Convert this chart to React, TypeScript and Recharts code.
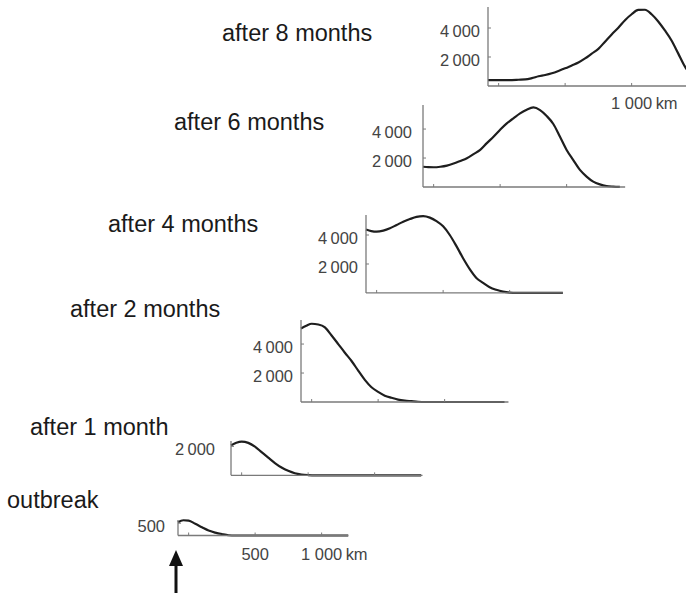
import { LineChart, Line, XAxis, YAxis } from "recharts";

// distance from the outbreak point, km (shared by all panels)
const kmGrid = [
  -80, -40, 0, 50, 100, 150, 200, 250, 300, 350, 400, 450, 500, 550, 600, 650,
  700, 750, 800, 850, 900, 950, 1000, 1050, 1100, 1150, 1200, 1250, 1300, 1350,
  1400, 1450, 1500, 1550,
];

// cases per panel
const outbreak = [540, 620, 605, 475, 335, 200, 120, 60, 12, 0, 0, 0, 0, 0, 0, 0, 0, 0, 0, 0, 0, 0, 0, 0, 0, 0, 0, 0, 0, 0, 0, 0, 0, 0];
const month1 = [2070, 2250, 2330, 2240, 1980, 1600, 1220, 850, 540, 310, 145, 60, 20, 0, 0, 0, 0, 0, 0, 0, 0, 0, 0, 0, 0, 0, 0, 0, 0, 0, 0, 0, 0, 0];
const month2 = [5080, 5260, 5400, 5350, 5150, 4590, 4000, 3400, 2830, 2170, 1530, 1020, 700, 440, 290, 170, 100, 60, 20, 0, 0, 0, 0, 0, 0, 0, 0, 0, 0, 0, 0, 0, 0, 0];
const month4 = [4380, 4270, 4230, 4300, 4460, 4690, 4920, 5100, 5250, 5300, 5200, 4960, 4600, 4000, 3230, 2400, 1650, 1040, 700, 400, 220, 95, 25, 0, 0, 0, 0, 0, 0, 0, 0, 0, 0, 0];
const month6 = [1400, 1370, 1365, 1400, 1480, 1620, 1800, 1990, 2270, 2560, 3030, 3470, 3950, 4390, 4740, 5080, 5340, 5490, 5310, 4900, 4350, 3470, 2560, 1860, 1180, 720, 370, 180, 70, 30, 10, 0, 0, 0];
const month8 = [400, 400, 400, 400, 410, 430, 450, 540, 670, 760, 880, 1040, 1220, 1420, 1620, 1900, 2230, 2560, 3060, 3560, 4020, 4540, 4950, 5250, 5260, 4950, 4450, 3830, 3140, 2250, 1350, 750, 400, 220];

const xTicks = [0, 500, 1000];

const PX_PER_KM = 0.133;
const AXIS = "#7a7a7a";
const INK = "#1e1e1e";
const FONT = '"Liberation Sans", Arial, sans-serif';

const panels = [
  { title: "after 8 months", values: month8, titleX: 222, titleY: 41, axisX: 488, baseY: 86, xEnd: 1550, yTop: 5450, unit: 69, yTicks: [2000, 4000], xLabels: { 1000: "1 000" } as Record<number, string>, gap: 8, xLabelDy: 17 },
  { title: "after 6 months", values: month6, titleX: 174, titleY: 130, axisX: 423, baseY: 187, xEnd: 1440, yTop: 5660, unit: 69, yTicks: [2000, 4000], xLabels: {}, gap: 11, xLabelDy: 18 },
  { title: "after 4 months", values: month4, titleX: 108, titleY: 232, axisX: 366, baseY: 293, xEnd: 1400, yTop: 5380, unit: 69, yTicks: [2000, 4000], xLabels: {}, gap: 8, xLabelDy: 18 },
  { title: "after 2 months", values: month2, titleX: 70, titleY: 317, axisX: 301, baseY: 402, xEnd: 1480, yTop: 5660, unit: 69, yTicks: [2000, 4000], xLabels: {}, gap: 8, xLabelDy: 18 },
  { title: "after 1 month", values: month1, titleX: 30, titleY: 435, axisX: 231, baseY: 475, xEnd: 1360, yTop: 2370, unit: 69, yTicks: [2000], xLabels: {}, gap: 16, xLabelDy: 18 },
  { title: "outbreak", values: outbreak, titleX: 7, titleY: 508, axisX: 178, baseY: 536, xEnd: 1200, yTop: 630, unit: 40.6, yTicks: [500], xLabels: { 500: "500", 1000: "1 000" } as Record<number, string>, gap: 13, xLabelDy: 19 },
];

const fmt = (v: number) =>
  v >= 1000 ? `${Math.floor(v / 1000)}\u2009${String(v % 1000).padStart(3, "0")}` : String(v);

const PAD_L = 60;
const PAD_T = 6;
const PAD_R = 50;
const PAD_B = 30;

function XTick(props: any) {
  const { x, y, payload, labels, dy } = props;
  const label = labels[payload.value];
  return (
    <g>
      <line x1={x} x2={x} y1={y} y2={y - 3} stroke={AXIS} />
      {label && (
        <text x={x} y={y + dy} dy="0.35em" textAnchor="middle" fontSize={16.5} fill="#444" fontFamily={FONT}>
          {label}
        </text>
      )}
      {label && payload.value === 1000 && (
        <text x={x + 24} y={y + dy} dy="0.35em" textAnchor="start" fontSize={16.5} fill="#444" fontFamily={FONT}>
          km
        </text>
      )}
    </g>
  );
}

function YTick(props: any) {
  const { x, y, payload, gap } = props;
  return (
    <g>
      <line x1={x} x2={x + 3} y1={y} y2={y} stroke={AXIS} />
      <text x={x - gap} y={y + 3} dy="0.35em" textAnchor="end" fontSize={16.5} fill="#444" fontFamily={FONT}>
        {fmt(payload.value)}
      </text>
    </g>
  );
}

function Panel({ p }: { p: (typeof panels)[number] }) {
  const plotW = (p.xEnd - kmGrid[0]) * PX_PER_KM;
  const plotH = p.yTop / p.unit;
  const rows = kmGrid
    .map((km, i) => ({ km, v: p.values[i] }))
    .filter((r) => r.km <= p.xEnd);
  return (
    <div style={{ position: "absolute", left: p.axisX - PAD_L, top: p.baseY - plotH - PAD_T }}>
      <LineChart
        width={PAD_L + plotW + PAD_R}
        height={PAD_T + plotH + PAD_B}
        data={rows}
        margin={{ top: PAD_T, right: PAD_R, bottom: 0, left: 0 }}
      >
        <XAxis
          dataKey="km"
          type="number"
          domain={[kmGrid[0], p.xEnd]}
          ticks={xTicks}
          interval={0}
          height={PAD_B}
          tickSize={0}
          tickMargin={0}
          tickLine={false}
          axisLine={{ stroke: AXIS, strokeWidth: 1.3 }}
          tick={(t: any) => <XTick {...t} labels={p.xLabels} dy={p.xLabelDy} />}
        />
        <YAxis
          type="number"
          domain={[0, p.yTop]}
          ticks={p.yTicks}
          interval={0}
          width={PAD_L}
          tickSize={0}
          tickMargin={0}
          tickLine={false}
          axisLine={{ stroke: AXIS, strokeWidth: 1.3 }}
          tick={(t: any) => <YTick {...t} gap={p.gap} />}
        />
        <Line
          dataKey="v"
          type="monotone"
          stroke={INK}
          strokeWidth={2.2}
          dot={false}
          isAnimationActive={false}
        />
      </LineChart>
    </div>
  );
}

export default function App() {
  return (
    <div
      style={{
        position: "absolute",
        left: 0,
        top: 0,
        width: 686,
        height: 593,
        overflow: "hidden",
        background: "#fff",
      }}
    >
      {panels.map((p) => (
        <Panel key={p.title} p={p} />
      ))}
      <svg
        width={686}
        height={593}
        style={{ position: "absolute", left: 0, top: 0, pointerEvents: "none" }}
      >
        {panels.map((p) => (
          <text key={p.title} x={p.titleX} y={p.titleY} fontSize={23.5} fill="#1a1a1a" fontFamily={FONT}>
            {p.title}
          </text>
        ))}
        <line x1={176} x2={176} y1={562} y2={593} stroke="#111" strokeWidth={3} />
        <polygon points="169,566 176,550 183,566" fill="#111" />
      </svg>
    </div>
  );
}
